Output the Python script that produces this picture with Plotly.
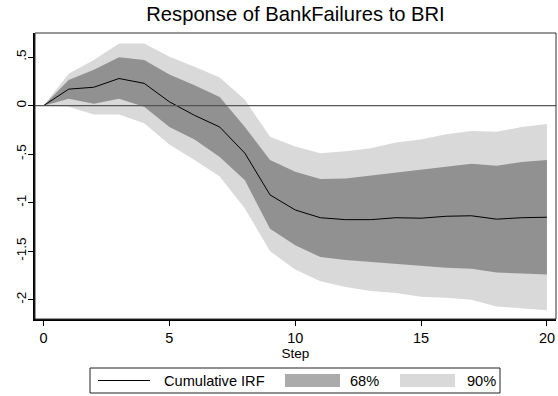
import plotly.graph_objects as go

steps = list(range(21))
irf = [0, 0.17, 0.19, 0.28, 0.23, 0.04, -0.10, -0.22, -0.49, -0.92, -1.075,
       -1.155, -1.175, -1.175, -1.155, -1.16, -1.14, -1.135, -1.17, -1.155, -1.15]
upper68 = [0, 0.265, 0.37, 0.50, 0.47, 0.32, 0.21, 0.09, -0.22, -0.56, -0.68,
           -0.755, -0.75, -0.72, -0.69, -0.66, -0.63, -0.60, -0.62, -0.58, -0.56]
lower68 = [0, 0.07, 0.02, 0.07, -0.01, -0.22, -0.35, -0.53, -0.77, -1.27, -1.44,
           -1.56, -1.59, -1.61, -1.625, -1.65, -1.67, -1.68, -1.72, -1.73, -1.74]
upper90 = [0, 0.33, 0.47, 0.64, 0.64, 0.505, 0.40, 0.29, 0.06, -0.32, -0.42,
           -0.49, -0.47, -0.44, -0.38, -0.35, -0.295, -0.26, -0.27, -0.22, -0.19]
lower90 = [0, -0.01, -0.09, -0.09, -0.18, -0.40, -0.56, -0.73, -1.06, -1.50, -1.69,
           -1.81, -1.87, -1.91, -1.93, -1.97, -1.98, -2.00, -2.07, -2.09, -2.11]

xticks = [0, 5, 10, 15, 20]
yticks = [0.5, 0, -0.5, -1, -1.5, -2]
yticklabels = [".5", "0", "-.5", "-1", "-1.5", "-2"]
legend_labels = ["Cumulative IRF", "68%", "90%"]

LIGHT = "#d9d9d9"
DARK = "rgba(0,0,0,0.33)"
FONT = "Liberation Sans, Arial, sans-serif"

W, H = 558, 396
ML, MR, MT, MB = 35, 2, 33, 77
PW, PH = W - ML - MR, H - MT - MB

def px(x):
    return (x - ML) / PW

def py(y):
    return (H - MB - y) / PH

fig = go.Figure()
fig.add_trace(go.Scatter(x=steps, y=upper90, mode="lines", line=dict(width=0),
                         showlegend=False, hoverinfo="skip"))
fig.add_trace(go.Scatter(x=steps, y=lower90, mode="lines", line=dict(width=0),
                         fill="tonexty", fillcolor=LIGHT, showlegend=False))
fig.add_trace(go.Scatter(x=steps, y=upper68, mode="lines", line=dict(width=0),
                         showlegend=False, hoverinfo="skip"))
fig.add_trace(go.Scatter(x=steps, y=lower68, mode="lines", line=dict(width=0),
                         fill="tonexty", fillcolor=DARK, showlegend=False))
fig.add_trace(go.Scatter(x=steps, y=irf, mode="lines",
                         line=dict(color="black", width=1), showlegend=False))

shapes = [
    # zero line
    dict(type="line", xref="paper", yref="y", x0=0, x1=1, y0=0, y1=0,
         line=dict(color="#555555", width=1.2), layer="above"),
    # plot frame
    dict(type="rect", xref="paper", yref="paper", x0=0, x1=1, y0=0, y1=1,
         line=dict(color="#333333", width=1), layer="above"),
    # legend box
    dict(type="rect", xref="paper", yref="paper", x0=px(90), x1=px(500),
         y0=py(393), y1=py(368), line=dict(color="#222222", width=1)),
    # legend line sample
    dict(type="line", xref="paper", yref="paper", x0=px(98), x1=px(150),
         y0=py(380.5), y1=py(380.5), line=dict(color="black", width=1)),
    # legend 68% swatch
    dict(type="rect", xref="paper", yref="paper", x0=px(285), x1=px(340),
         y0=py(387), y1=py(374), fillcolor=DARK, line=dict(width=0)),
    # legend 90% swatch
    dict(type="rect", xref="paper", yref="paper", x0=px(400), x1=px(455),
         y0=py(387), y1=py(374), fillcolor=LIGHT, line=dict(width=0)),
]

annotations = []
for lab, xl in zip(legend_labels, [162, 348, 465]):
    annotations.append(dict(text=lab, xref="paper", yref="paper", x=px(xl), y=py(380.5),
                            xanchor="left", yanchor="middle", showarrow=False,
                            font=dict(family=FONT, size=14.6, color="black")))

fig.update_layout(
    width=W, height=H,
    margin=dict(l=ML, r=MR, t=MT, b=MB),
    paper_bgcolor="white", plot_bgcolor="white",
    title=dict(text="Response of BankFailures to BRI", x=0.5, xref="paper",
               y=1 - 14 / H, yref="container", yanchor="middle", xanchor="center",
               font=dict(family=FONT, size=20.2, color="black")),
    shapes=shapes, annotations=annotations,
    showlegend=False,
)
fig.update_xaxes(range=[-0.338, 20.36], tickvals=xticks, ticks="outside", ticklen=5,
                 tickcolor="black", showline=True, linecolor="black", linewidth=1.5,
                 showgrid=False, zeroline=False,
                 tickfont=dict(family=FONT, size=14.5, color="black"),
                 title=dict(text="Step", standoff=0,
                            font=dict(family=FONT, size=13.5, color="black")))
fig.update_yaxes(range=[-2.199, 0.749], tickvals=yticks, ticktext=yticklabels,
                 ticks="outside", ticklen=5, tickcolor="black", tickangle=-90,
                 ticklabelstandoff=-3,
                 showline=True, linecolor="black", linewidth=1.5,
                 showgrid=False, zeroline=False,
                 tickfont=dict(family=FONT, size=13.5, color="black"))

fig.write_html("out.html")
